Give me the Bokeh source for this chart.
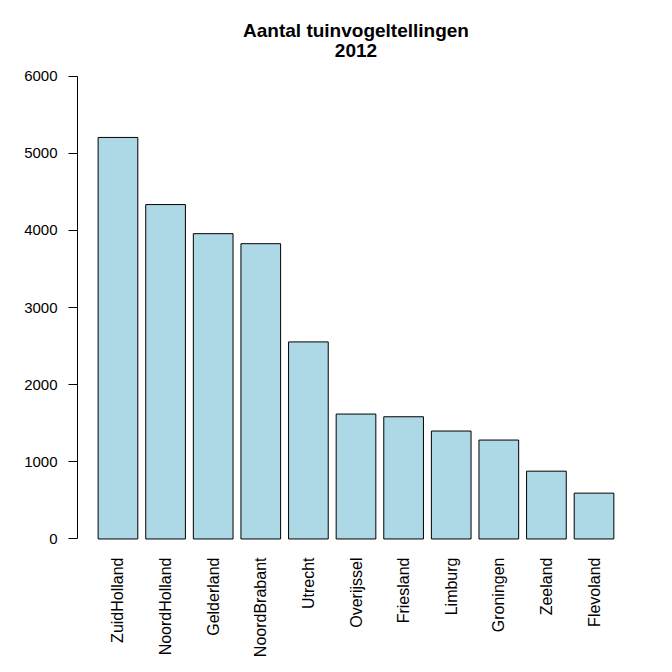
import math
from bokeh.plotting import figure
from bokeh.models import Range1d, FixedTicker, Title
from bokeh.embed import file_html
from bokeh.resources import INLINE

provinces = ["ZuidHolland", "NoordHolland", "Gelderland", "NoordBrabant", "Utrecht",
             "Overijssel", "Friesland", "Limburg", "Groningen", "Zeeland", "Flevoland"]
counts = [5204, 4334, 3957, 3827, 2554, 1619, 1584, 1399, 1282, 879, 594]
y_ticks = [0, 1000, 2000, 3000, 4000, 5000, 6000]

bar_width = 1.0
space = 0.2
centers = [space + i * (bar_width + space) + bar_width / 2 for i in range(len(provinces))]

FONT = "Liberation Sans"

p = figure(width=672, height=672, output_backend="svg", toolbar_location=None,
           x_range=Range1d(-0.32, 13.72), y_range=Range1d(-240, 6240),
           min_border_left=77, min_border_right=38, min_border_top=57, min_border_bottom=115)
p.title = None
p.outline_line_color = None
p.background_fill_color = "white"
p.border_fill_color = "white"
p.xgrid.visible = False
p.ygrid.visible = False

p.vbar(x=centers, top=counts, bottom=0, width=bar_width,
       fill_color="#ADD8E6", line_color="black", line_width=1)

# y axis
ya = p.yaxis[0]
ya.ticker = FixedTicker(ticks=y_ticks)
ya.bounds = (0, 6000)
ya.axis_line_color = "black"
ya.major_tick_out = 9
ya.major_tick_in = 0
ya.minor_tick_line_color = None
ya.major_label_standoff = 11
ya.major_label_text_font = FONT
ya.major_label_text_font_size = "15px"
ya.major_label_text_color = "black"

# x axis
xa = p.xaxis[0]
xa.ticker = FixedTicker(ticks=centers)
xa.major_label_overrides = {c: name for c, name in zip(centers, provinces)}
xa.major_label_orientation = math.pi / 2
xa.axis_line_color = None
xa.major_tick_line_color = None
xa.minor_tick_line_color = None
xa.major_tick_out = 0
xa.major_tick_in = 0
xa.major_label_standoff = 0
xa.major_label_text_font = FONT
xa.major_label_text_font_size = "16px"
xa.major_label_text_color = "black"

p.add_layout(Title(text="2012", align="center", text_font=FONT, text_font_size="19px",
                   text_font_style="bold", text_color="black", standoff=1), "above")
p.add_layout(Title(text="Aantal tuinvogeltellingen", align="center", text_font=FONT,
                   text_font_size="19px", text_font_style="bold", text_color="black",
                   standoff=1), "above")

open("out.html", "w").write(file_html(p, INLINE))
